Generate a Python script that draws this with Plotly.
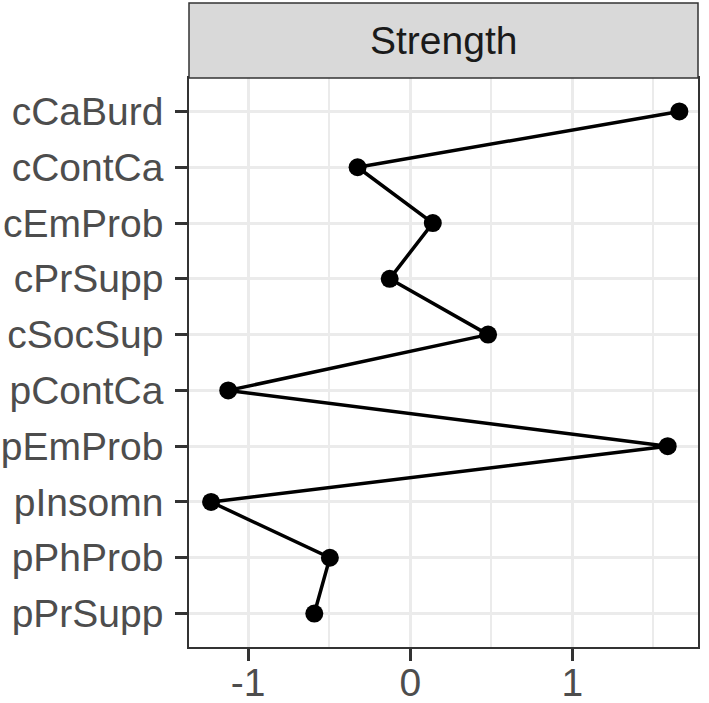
import plotly.graph_objects as go

categories = ["cCaBurd", "cContCa", "cEmProb", "cPrSupp", "cSocSup",
              "pContCa", "pEmProb", "pInsomn", "pPhProb", "pPrSupp"]
strength = [1.660, -0.325, 0.139, -0.127, 0.480,
            -1.123, 1.588, -1.229, -0.496, -0.592]
x_ticks = [-1, 0, 1]
facet_label = "Strength"

W, H = 709, 703
L, R, T, B = 189, 11, 78, 56

fig = go.Figure()
fig.add_trace(go.Scatter(
    x=strength, y=categories, mode="lines+markers",
    line=dict(color="black", width=3.5),
    marker=dict(color="black", size=18),
    showlegend=False, cliponaxis=False,
))

font = "Liberation Sans, Arial, sans-serif"
fig.update_layout(
    width=W, height=H,
    margin=dict(l=L, r=R, t=T, b=B, autoexpand=False),
    paper_bgcolor="white", plot_bgcolor="white",
    xaxis=dict(
        range=[-1.365, 1.775], tickvals=x_ticks, ticktext=[str(v) for v in x_ticks],
        showgrid=True, gridcolor="#EBEBEB", gridwidth=3,
        minor=dict(dtick=0.5, tick0=0, showgrid=True, gridcolor="#EBEBEB", gridwidth=2),
        ticks="outside", ticklen=12, tickwidth=3, tickcolor="#333333",
        tickfont=dict(family=font, size=39, color="#4D4D4D"),
        ticklabelstandoff=-12,
        zeroline=False, showline=True, linecolor="#333333", linewidth=1.5,
        mirror=True, fixedrange=True, automargin=False,
    ),
    yaxis=dict(
        type="category", categoryorder="array", categoryarray=categories,
        range=[9.6, -0.6],
        showgrid=True, gridcolor="#EBEBEB", gridwidth=3,
        ticks="outside", ticklen=12, tickwidth=3, tickcolor="#333333",
        tickfont=dict(family=font, size=39, color="#4D4D4D"),
        ticklabelstandoff=4,
        zeroline=False, showline=True, linecolor="#333333", linewidth=1.5,
        mirror=True, fixedrange=True, automargin=False,
    ),
)

strip_h = 75 / (H - T - B)
fig.add_shape(type="rect", xref="paper", yref="paper",
              x0=0, x1=1, y0=1, y1=1 + strip_h,
              fillcolor="#D9D9D9", line=dict(color="#333333", width=1.5))
fig.add_annotation(xref="paper", yref="paper", x=0.5, y=1 + strip_h / 2,
                   xanchor="center", yanchor="middle",
                   text=facet_label, showarrow=False,
                   font=dict(family=font, size=39, color="#1A1A1A"))

fig.write_html("out.html")
